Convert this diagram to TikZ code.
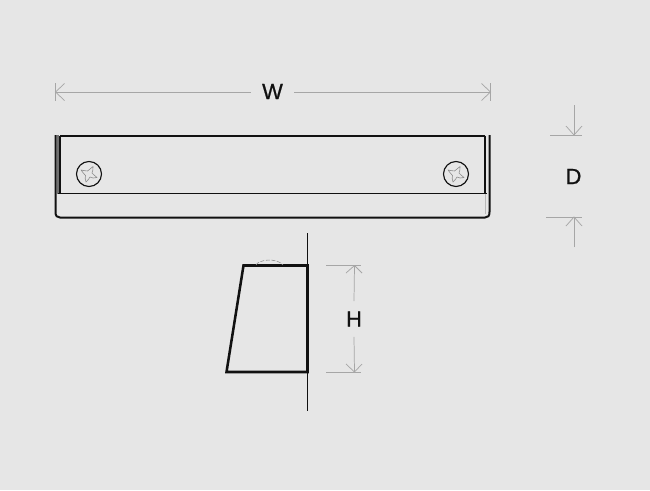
\documentclass[tikz,border=0pt]{standalone}
\usepackage{fontspec}
\setmainfont[FakeBold=0.8]{Liberation Sans}
\definecolor{bgc}{HTML}{E6E6E6}
\definecolor{ink}{HTML}{111111}
\definecolor{dimc}{HTML}{A6A6A6}
\tikzset{
  px/.style={x=0.75pt,y=-0.75pt},
  dimline/.style={draw=dimc,line width=0.55pt},
  hairline/.style={draw=dimc!85!black,line width=0.45pt},
  dimlabel/.style={font=\fontsize{16.5pt}{18pt}\selectfont,text=ink,inner sep=0pt},
  screwhead/.pic={
    \draw[draw=ink,line width=0.85pt,fill=bgc] (0,0) circle (12.5);
    \draw[hairline,line join=round] (-8,-4) .. controls (-5,-3.5) and (-3,-3) .. (-1.5,-3)
      .. controls (0,-4) and (2,-6) .. (4,-7.5)
      .. controls (4.5,-5) and (3.5,-3) .. (3,-1)
      .. controls (4,0) and (6,2) .. (8,3.5)
      .. controls (5,4.5) and (3,4) .. (1,3)
      .. controls (0,4.5) and (-1,6.5) .. (-3,8)
      .. controls (-4,6) and (-4,3) .. (-3.5,1.5)
      .. controls (-5,0) and (-6.5,-2) .. (-8,-4) -- cycle;
  }
}
\begin{document}
\begin{tikzpicture}[px]
\useasboundingbox[fill=bgc] (0,0) rectangle (650,490);

% front view
\draw[draw=ink,line width=1.5pt] (55.5,135) -- (55.5,212) .. controls (55.5,216) and (57,217.5) .. (60,217.5)
  -- (485,217.5) .. controls (488,217.5) and (489.5,216) .. (489.5,212) -- (489.5,135);
\draw[draw=ink!60,line width=1.2pt] (57.7,135) -- (57.7,194);
\draw[draw=ink!30,line width=0.5pt] (485,194) -- (485,214);
\draw[draw=ink,line width=1.5pt] (60,135.5) -- (485,135.5);
\draw[draw=ink,line width=0.8pt] (60,135.5) -- (60,194);
\draw[draw=ink,line width=0.8pt] (485,135.5) -- (485,194);
\draw[draw=ink,line width=1pt] (58,193.5) -- (487,193.5);
\pic at (89,174) {screwhead};
\pic at (456,174) {screwhead};

% W dimension
\node[dimlabel] (w) at (272.5,91.5) {W};
\coordinate (wl) at (55.5,92);
\coordinate (wr) at (490.5,92);
\draw[dimline] (55.5,83) -- (55.5,101);
\draw[dimline] (490.5,83) -- (490.5,101);
\draw[dimline] (w.west) ++(-11,0.5) -- (wl);
\draw[dimline] (w.east) ++(11,0.5) -- (wr);
\draw[dimline] (64.5,83.5) -- (wl) -- (64.5,100.5);
\draw[dimline] (481.5,83.5) -- (wr) -- (481.5,100.5);

% D dimension
\node[dimlabel] (d) at (573.5,176.5) {D};
\coordinate (dt) at (574,135);
\coordinate (db) at (574,217);
\draw[dimline] (550,135) -- (582,135);
\draw[dimline] (546,217) -- (582,217);
\draw[dimline] (574,105) -- (dt);
\draw[dimline] (574,247) -- (db);
\draw[dimline] (566,126) -- (dt) -- (582,126);
\draw[dimline] (566,226) -- (db) -- (582,226);

% side view
\draw[draw=ink,line width=1.9pt,line join=miter] (243.5,265.5) -- (307.5,265.5) -- (307.5,372) -- (226.5,372) -- cycle;
\draw[draw=ink,line width=1pt] (307.5,233) -- (307.5,411);
\draw[hairline,dash pattern=on 3pt off 1.2pt] (256,265) .. controls (258,260) and (276,257) .. (283,265);

% H dimension
\node[dimlabel] (h) at (354,319) {H};
\coordinate (ht) at (354.5,265.5);
\coordinate (hb) at (354.5,372);
\draw[dimline] (326,265.5) -- (361,265.5);
\draw[dimline] (326,372) -- (361,372);
\draw[dimline] (h.north) ++(0,-10) -- (ht);
\draw[dimline] (h.south) ++(0,10) -- (hb);
\draw[dimline] (346,273) -- (ht) -- (362,273);
\draw[dimline] (346,364) -- (hb) -- (362,364);
\end{tikzpicture}
\end{document}
